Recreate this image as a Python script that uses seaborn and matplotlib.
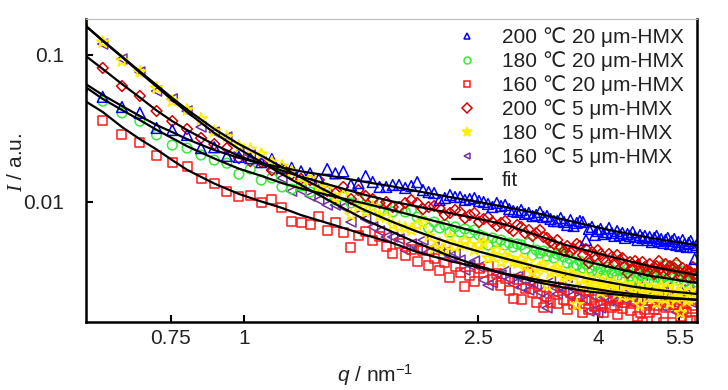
import matplotlib
matplotlib.use("Agg")
import matplotlib.pyplot as plt
import seaborn as sns
import pandas as pd
from matplotlib import font_manager
from matplotlib.lines import Line2D
from matplotlib.ticker import FixedLocator, FixedFormatter, NullLocator

# ---------------- data ----------------
q = [0.53, 0.575, 0.62, 0.665, 0.71, 0.755, 0.8, 0.845, 0.89, 0.935,
     0.98, 1.025, 1.07, 1.115, 1.16, 1.205, 1.25, 1.295, 1.34, 1.385,
     1.43, 1.475, 1.52, 1.565, 1.61, 1.655, 1.7, 1.745, 1.79, 1.835,
     1.88, 1.925, 1.97, 2.015, 2.06, 2.105, 2.15, 2.195, 2.24, 2.285,
     2.33, 2.375, 2.42, 2.465, 2.51, 2.555, 2.6, 2.645, 2.69, 2.735,
     2.78, 2.825, 2.87, 2.915, 2.96, 3.005, 3.05, 3.095, 3.14, 3.185,
     3.23, 3.275, 3.32, 3.365, 3.41, 3.455, 3.5, 3.545, 3.59, 3.635,
     3.68, 3.725, 3.77, 3.815, 3.86, 3.905, 3.95, 3.995, 4.04, 4.085,
     4.13, 4.175, 4.22, 4.265, 4.31, 4.355, 4.4, 4.445, 4.49, 4.535,
     4.58, 4.625, 4.67, 4.715, 4.76, 4.805, 4.85, 4.895, 4.94, 4.985,
     5.03, 5.075, 5.12, 5.165, 5.21, 5.255, 5.3, 5.345, 5.39, 5.435,
     5.48, 5.525, 5.57, 5.615, 5.66, 5.705, 5.75, 5.795, 5.84, 5.885]

I_200C_20um = [0.0614, 0.0518, 0.0442, 0.0403, 0.0318, 0.0308, 0.0285, 0.0232, 0.0235, 0.0205,
               0.0202, 0.0198, 0.0186, 0.0195, 0.0170, 0.0170, 0.0161, 0.0156, 0.0143, 0.0167,
               0.0156, 0.0161, 0.0130, 0.0134, 0.01496, 0.01362, 0.0126, 0.0126, 0.0130, 0.0130,
               0.0124, 0.0128, 0.0136, 0.0120, 0.01163, 0.01145, 0.01027, 0.01059, 0.0111, 0.01076,
               0.01076, 0.01027, 0.01042, 0.01059, 0.01011, 0.00995, 0.00965, 0.00920, 0.00980, 0.00934,
               0.00949, 0.00891, 0.00864, 0.00851, 0.00878, 0.00825, 0.00838, 0.00798, 0.00811, 0.00851,
               0.00786, 0.00798, 0.00762, 0.00738, 0.00738, 0.00774, 0.00727, 0.00694, 0.00750, 0.00683,
               0.00716, 0.00738, 0.00727, 0.00548, 0.00652, 0.00673, 0.00593, 0.00631, 0.00652, 0.00602,
               0.00621, 0.00662, 0.00612, 0.00584, 0.00631, 0.00593, 0.00612, 0.00566, 0.00602, 0.00584,
               0.00621, 0.00575, 0.00548, 0.00593, 0.00566, 0.00584, 0.00548, 0.00575, 0.00531, 0.00566,
               0.00584, 0.00539, 0.00557, 0.00523, 0.00548, 0.00566, 0.00515, 0.00539, 0.00557, 0.00507,
               0.00531, 0.00499, 0.00548, 0.00515, 0.00491, 0.00523, 0.00539, 0.00491, 0.00407, 0.00507]

I_180C_20um = [0.0595, 0.0485, 0.0403, 0.0354, 0.0285, 0.0243, 0.0232, 0.0208, 0.0192, 0.0183,
               0.0154, 0.0167, 0.01405, 0.0145, 0.0126, 0.0122, 0.0128, 0.01163, 0.0128, 0.0111,
               0.01027, 0.01093, 0.00980, 0.01042, 0.00920, 0.01011, 0.00878, 0.00949, 0.00851, 0.00905,
               0.00851, 0.00878, 0.00786, 0.00738, 0.00662, 0.00727, 0.00662, 0.00694, 0.00621, 0.00673,
               0.00621, 0.00652, 0.00612, 0.00641, 0.00593, 0.00575, 0.00507, 0.00566, 0.00531, 0.00548,
               0.00507, 0.00523, 0.00491, 0.00515, 0.00507, 0.00476, 0.00523, 0.00433, 0.00468, 0.00446,
               0.00461, 0.00426, 0.00454, 0.00413, 0.00440, 0.00446, 0.00420, 0.00382, 0.00407, 0.00364,
               0.00370, 0.00394, 0.00353, 0.00376, 0.00353, 0.00337, 0.00364, 0.00331, 0.00348, 0.00316,
               0.00342, 0.00359, 0.00326, 0.00337, 0.00311, 0.00342, 0.00301, 0.00326, 0.00348, 0.00311,
               0.00293, 0.00321, 0.00301, 0.00275, 0.00311, 0.00331, 0.00331, 0.00297, 0.00316, 0.00288,
               0.00306, 0.00342, 0.00297, 0.00370, 0.00311, 0.00284, 0.00321, 0.00359, 0.00301, 0.00370,
               0.00293, 0.00311, 0.00337, 0.00284, 0.00306, 0.00331, 0.00293, 0.00316, 0.00353, 0.00280]

I_160C_20um = [0.0442, 0.0360, 0.0285, 0.0255, 0.0205, 0.0186, 0.0175, 0.0143, 0.0134, 0.0118,
               0.01093, 0.0111, 0.00995, 0.01042, 0.00920, 0.00738, 0.00727, 0.00704, 0.00798, 0.00641,
               0.00716, 0.00621, 0.00491, 0.00584, 0.00631, 0.00548, 0.00575, 0.00499, 0.00446, 0.00523,
               0.00433, 0.00476, 0.00394, 0.00468, 0.00370, 0.00413, 0.00342, 0.00388, 0.00306, 0.00359,
               0.00331, 0.00266, 0.00316, 0.00284, 0.00348, 0.00331, 0.00359, 0.00293, 0.00326, 0.00270,
               0.00301, 0.00250, 0.00220, 0.00293, 0.00214, 0.00258, 0.00331, 0.00239, 0.00204, 0.00266,
               0.00189, 0.00227, 0.00204, 0.00246, 0.00201, 0.00262, 0.00217, 0.00183, 0.00242, 0.00198,
               0.00201, 0.00227, 0.00175, 0.00214, 0.00183, 0.00217, 0.00192, 0.00231, 0.00195, 0.00177,
               0.00211, 0.00224, 0.00189, 0.00195, 0.00169, 0.00220, 0.00186, 0.00204, 0.00227, 0.00180,
               0.00201, 0.00214, 0.00166, 0.00177, 0.00151, 0.00183, 0.00195, 0.00175, 0.00211, 0.00183,
               0.00161, 0.00195, 0.00217, 0.00151, 0.00189, 0.00207, 0.00207, 0.00172, 0.00198, 0.00224,
               0.00186, 0.00166, 0.00180, 0.00201, 0.00175, 0.00214, 0.00156, 0.00186, 0.00195, 0.00154]

I_200C_5um = [0.1000, 0.0816, 0.0614, 0.0526, 0.0415, 0.0354, 0.0313, 0.0272, 0.0247, 0.0232,
              0.0198, 0.0189, 0.0186, 0.0164, 0.0170, 0.0154, 0.0143, 0.01405, 0.01405, 0.01181,
              0.01145, 0.0126, 0.01042, 0.0120, 0.01093, 0.01042, 0.00980, 0.00995, 0.00920, 0.00920,
              0.00980, 0.01027, 0.00980, 0.00891, 0.00920, 0.00934, 0.00905, 0.00811, 0.00838, 0.00878,
              0.00851, 0.00774, 0.00811, 0.00838, 0.00727, 0.00762, 0.00786, 0.00727, 0.00683, 0.00716,
              0.00738, 0.00662, 0.00631, 0.00694, 0.00673, 0.00612, 0.00641, 0.00584, 0.00612, 0.00641,
              0.00575, 0.00566, 0.00531, 0.00515, 0.00548, 0.00491, 0.00461, 0.00499, 0.00454, 0.00476,
              0.00515, 0.00499, 0.00433, 0.00476, 0.00382, 0.00454, 0.00426, 0.00468, 0.00440, 0.00407,
              0.00388, 0.00440, 0.00420, 0.00382, 0.00433, 0.00400, 0.00413, 0.00364, 0.00326, 0.00388,
              0.00353, 0.00394, 0.00370, 0.00342, 0.00388, 0.00359, 0.00337, 0.00376, 0.00348, 0.00321,
              0.00364, 0.00394, 0.00353, 0.00331, 0.00376, 0.00342, 0.00364, 0.00321, 0.00353, 0.00382,
              0.00337, 0.00311, 0.00353, 0.00326, 0.00342, 0.00306, 0.00331, 0.00359, 0.00321, 0.00301]

I_180C_5um = [0.1627, 0.1226, 0.0911, 0.0766, 0.0595, 0.0485, 0.0422, 0.0366, 0.0303, 0.0276,
              0.0239, 0.0228, 0.0211, 0.0186, 0.0175, 0.0161, 0.0134, 0.0143, 0.0126, 0.0122,
              0.01059, 0.0111, 0.00811, 0.00934, 0.00851, 0.00920, 0.00798, 0.00786, 0.00694, 0.00673,
              0.00662, 0.00641, 0.00694, 0.00716, 0.00584, 0.00484, 0.00523, 0.00468, 0.00575, 0.00491,
              0.00507, 0.00539, 0.00507, 0.00468, 0.00507, 0.00523, 0.00413, 0.00420, 0.00468, 0.00388,
              0.00426, 0.00413, 0.00388, 0.00382, 0.00407, 0.00364, 0.00388, 0.00331, 0.00316, 0.00359,
              0.00370, 0.00270, 0.00326, 0.00342, 0.00353, 0.00331, 0.00311, 0.00288, 0.00321, 0.00316,
              0.00198, 0.00297, 0.00270, 0.00306, 0.00284, 0.00258, 0.00275, 0.00297, 0.00242, 0.00266,
              0.00288, 0.00254, 0.00262, 0.00280, 0.00239, 0.00258, 0.00227, 0.00270, 0.00246, 0.00227,
              0.00254, 0.00275, 0.00235, 0.00198, 0.00250, 0.00266, 0.00220, 0.00242, 0.00258, 0.00224,
              0.00204, 0.00250, 0.00266, 0.00235, 0.00217, 0.00258, 0.00204, 0.00242, 0.00262, 0.00220,
              0.00239, 0.00175, 0.00250, 0.00227, 0.00211, 0.00217, 0.00246, 0.00227, 0.00220, 0.00242]

I_160C_5um = [0.1652, 0.1188, 0.0939, 0.0766, 0.0568, 0.0502, 0.0415, 0.0323, 0.0298, 0.0276,
              0.0218, 0.0208, 0.0186, 0.0164, 0.0145, 0.0118, 0.0120, 0.01093, 0.01027, 0.00949,
              0.00949, 0.00920, 0.00727, 0.00825, 0.00762, 0.00673, 0.00631, 0.00575, 0.00575, 0.00557,
              0.00468, 0.00515, 0.00484, 0.00548, 0.00454, 0.00491, 0.00468, 0.00454, 0.00426, 0.00446,
              0.00400, 0.00342, 0.00370, 0.00394, 0.00359, 0.00293, 0.00270, 0.00280, 0.00321, 0.00316,
              0.00337, 0.00297, 0.00275, 0.00311, 0.00262, 0.00288, 0.00250, 0.00280, 0.00270, 0.00242,
              0.00220, 0.00189, 0.00284, 0.00262, 0.00235, 0.00262, 0.00246, 0.00306, 0.00227, 0.00254,
              0.00220, 0.00242, 0.00270, 0.00214, 0.00180, 0.00231, 0.00183, 0.00175, 0.00189, 0.00224,
              0.00250, 0.00211, 0.00235, 0.00258, 0.00204, 0.00227, 0.00364, 0.00217, 0.00242, 0.00207,
              0.00231, 0.00258, 0.00214, 0.00266, 0.00316, 0.00224, 0.00239, 0.00201, 0.00227, 0.00254,
              0.00217, 0.00235, 0.00195, 0.00246, 0.00220, 0.00262, 0.00207, 0.00231, 0.00204, 0.00177,
              0.00224, 0.00250, 0.00214, 0.00231, 0.00258, 0.00246, 0.00207, 0.00224, 0.00275, 0.00239]

q_fit = [0.53, 0.575, 0.62, 0.665, 0.71, 0.755, 0.80, 0.89, 0.98, 1.07, 1.16, 1.25, 1.43, 1.61,
         1.79, 1.97, 2.24, 2.51, 2.78, 3.14, 3.50, 3.86, 4.22, 4.58, 4.94, 5.30, 5.66, 5.885]
fit_200C_20um = [0.0659, 0.0534, 0.0449, 0.0384, 0.0333, 0.0298, 0.0267, 0.0225, 0.0199, 0.0182,
                 0.0171, 0.0161, 0.0148, 0.01362, 0.0127, 0.0118, 0.01076, 0.00995, 0.00920, 0.00837,
                 0.00756, 0.00689, 0.00636, 0.00598, 0.00565, 0.00539, 0.00519, 0.00507]
fit_180C_20um = [0.0629, 0.0502, 0.0422, 0.0360, 0.0309, 0.0271, 0.0239, 0.0197, 0.0168, 0.0150,
                 0.0134, 0.0123, 0.0108, 0.00970, 0.00875, 0.00792, 0.00694, 0.00616, 0.00554, 0.00487,
                 0.00433, 0.00388, 0.00356, 0.00331, 0.00311, 0.00298, 0.00286, 0.00280]
fit_160C_20um = [0.0501, 0.0409, 0.0323, 0.0267, 0.0227, 0.0192, 0.0165, 0.0133, 0.0113, 0.01003,
                 0.00907, 0.00811, 0.00689, 0.00593, 0.00523, 0.00454, 0.00394, 0.00356, 0.00323, 0.00295,
                 0.00274, 0.00258, 0.00244, 0.00235, 0.00227, 0.00222, 0.00217, 0.00214]
fit_200C_5um = [0.1032, 0.0803, 0.0634, 0.0513, 0.0419, 0.0354, 0.0308, 0.0245, 0.0205, 0.0181,
                0.0163, 0.0148, 0.0127, 0.0111, 0.01003, 0.00927, 0.00837, 0.00762, 0.00699, 0.00593,
                0.00511, 0.00461, 0.00420, 0.00388, 0.00361, 0.00342, 0.00326, 0.00316]
fit_180C_5um = [0.1665, 0.1255, 0.0977, 0.0772, 0.0624, 0.0509, 0.0425, 0.0313, 0.0247, 0.0206,
                0.0172, 0.0146, 0.0110, 0.00871, 0.00727, 0.00626, 0.00523, 0.00457, 0.00410, 0.00361,
                0.00326, 0.00299, 0.00280, 0.00264, 0.00253, 0.00245, 0.00239, 0.00235]
fit_160C_5um = [0.1665, 0.1249, 0.0969, 0.0760, 0.0609, 0.0493, 0.0409, 0.0294, 0.0229, 0.0186,
                0.0154, 0.0130, 0.00965, 0.00750, 0.00621, 0.00523, 0.00426, 0.00364, 0.00321, 0.00284,
                0.00260, 0.00244, 0.00235, 0.00227, 0.00222, 0.00219, 0.00217, 0.00215]

series_labels = ["200 \u2103 20 \u03bcm-HMX", "180 \u2103 20 \u03bcm-HMX", "160 \u2103 20 \u03bcm-HMX",
                 "200 \u2103 5 \u03bcm-HMX", "180 \u2103 5 \u03bcm-HMX", "160 \u2103 5 \u03bcm-HMX"]
fit_label = "fit"
x_ticks = [0.75, 1, 2.5, 4, 5.5]
x_tick_labels = ["0.75", "1", "2.5", "4", "5.5"]
y_ticks = [0.01, 0.1]
y_tick_labels = ["0.01", "0.1"]

# ---------------- style ----------------
sns.set_theme(style="ticks")
names = {f.name for f in font_manager.fontManager.ttflist}
base = "Liberation Sans" if "Liberation Sans" in names else "DejaVu Sans"
plt.rcParams["font.family"] = [base, "DejaVu Sans"]
plt.rcParams["mathtext.fontset"] = "custom"
plt.rcParams["mathtext.rm"] = base
plt.rcParams["mathtext.it"] = "Liberation Serif:italic"
plt.rcParams["mathtext.sf"] = base + ":italic"

FS = 15

fig = plt.figure(figsize=(7.28, 3.9), dpi=100)
ax = fig.add_axes([86 / 728, 1 - 322 / 390, 611 / 728, 303 / 390])

data_sets = [I_200C_20um, I_180C_20um, I_160C_20um, I_200C_5um, I_180C_5um, I_160C_5um]
fits = [fit_200C_20um, fit_180C_20um, fit_160C_20um, fit_200C_5um, fit_180C_5um, fit_160C_5um]
markers = ["^", "o", "s", "D", "*", "<"]
colors = ["#0000ff", "#33ee33", "#ff1a1a", "#dd0000", "#ffee00", "#7030a0"]
sizes = [60, 48, 42, 30, 80, 52]
lws = [1.1, 1.1, 1.1, 1.1, 1.2, 1.1]
draw_order = [5, 2, 1, 3, 4, 0]
zorders = {5: 2.0, 2: 2.1, 1: 2.2, 3: 2.3, 4: 2.5, 0: 2.4}

for i in draw_order:
    df = pd.DataFrame({"q": q, "I": data_sets[i]})
    sns.scatterplot(data=df, x="q", y="I", ax=ax, marker=markers[i], s=sizes[i],
                    facecolors="none", edgecolor=colors[i], linewidth=lws[i],
                    legend=False, zorder=zorders[i])

for f in fits:
    dff = pd.DataFrame({"q": q_fit, "I": f})
    sns.lineplot(data=dff, x="q", y="I", ax=ax, color="black", linewidth=1.6,
                 sort=False, estimator=None, legend=False, zorder=5)

ax.set_xscale("log")
ax.set_yscale("log")
ax.set_xlim(0.5386, 5.893)
ax.set_ylim(0.001514, 0.1759)
ax.xaxis.set_major_locator(FixedLocator(x_ticks))
ax.xaxis.set_major_formatter(FixedFormatter(x_tick_labels))
ax.yaxis.set_major_locator(FixedLocator(y_ticks))
ax.yaxis.set_major_formatter(FixedFormatter(y_tick_labels))
ax.xaxis.set_minor_locator(NullLocator())
ax.yaxis.set_minor_locator(NullLocator())
ax.tick_params(axis="both", which="major", direction="in", length=5, width=1.5,
               labelsize=FS, colors="black", labelcolor="#222222")
ax.tick_params(axis="x", pad=5)
ax.tick_params(axis="y", pad=16)
ax.set_xlabel("")
ax.set_ylabel("")

for side in ["left", "bottom", "right"]:
    ax.spines[side].set_linewidth(1.8)
    ax.spines[side].set_color("black")
ax.spines["top"].set_linewidth(0.8)
ax.spines["top"].set_color("#bbbbbb")

fig.text(16 / 728, 1 - 162 / 390, r"$\mathit{I}$ / a.u.", rotation=90, ha="center", va="center",
         fontsize=FS, color="#222222")
fig.text(375 / 728, 1 - 375 / 390, r"$\mathsf{q}$ / nm$^{-1}$", ha="center", va="center",
         fontsize=FS, color="#222222")

handles = []
for i in range(6):
    handles.append(Line2D([], [], linestyle="none", marker=markers[i], markersize=5 if markers[i] != "*" else 7,
                          markerfacecolor="none" if markers[i] != "*" else colors[i],
                          markeredgecolor=colors[i], markeredgewidth=1.1))
handles.append(Line2D([], [], color="black", linewidth=1.6))
leg = ax.legend(handles, series_labels + [fit_label], loc="upper left",
                bbox_to_anchor=((452 - 86) / 611, (322 - 27) / 303),
                frameon=False, fontsize=FS, labelspacing=0.2, handlelength=1.44,
                handletextpad=0.96, borderpad=0, borderaxespad=0, labelcolor="#222222")
leg.set_zorder(10)

fig.savefig("out.png", dpi=100)
